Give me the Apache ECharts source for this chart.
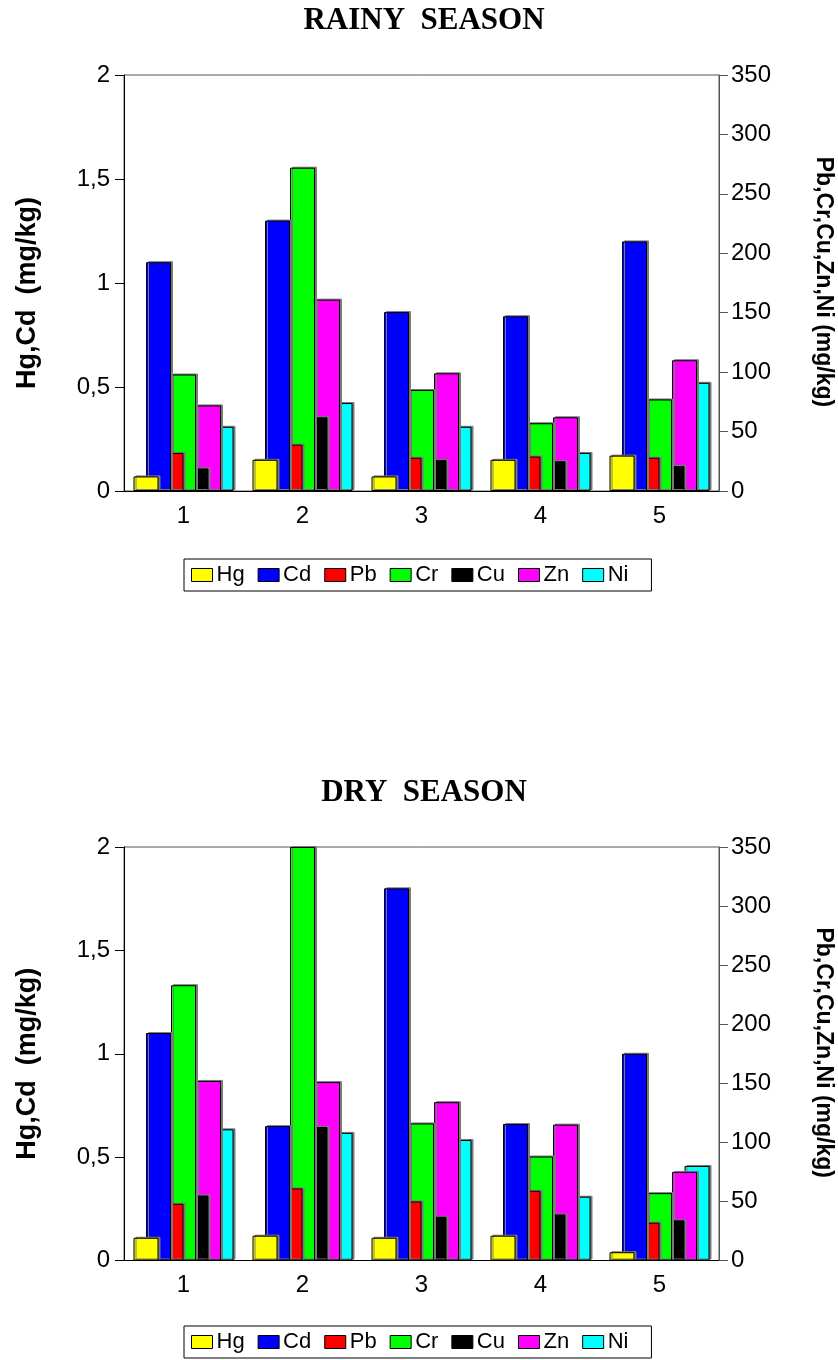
<!DOCTYPE html>
<html>
<head>
<meta charset="utf-8">
<title>Rainy / Dry season metals</title>
<script src="https://cdn.jsdelivr.net/npm/echarts@6/dist/echarts.min.js"></script>
<style>
  html, body { margin: 0; padding: 0; background: #fff; }
  #main { width: 838px; height: 1360px; }
</style>
</head>
<body>
<div id="main"></div>
<script>
// sampling sites on the x axis
const sites = ['1', '2', '3', '4', '5'];
const metals = ['Hg', 'Cd', 'Pb', 'Cr', 'Cu', 'Zn', 'Ni'];
const metalColors = ['#ffff00', '#0000ff', '#ff0000', '#00ff00', '#000000', '#ff00ff', '#00ffff'];

// left axis ticks (Hg, Cd) and right axis ticks (Pb, Cr, Cu, Zn, Ni)
const leftTicks = [0, 0.5, 1, 1.5, 2];
const rightTicks = [0, 50, 100, 150, 200, 250, 300, 350];

// rainy season, mg/kg
const rainyHg = [0.07, 0.15, 0.07, 0.15, 0.17];
const rainyCd = [1.10, 1.30, 0.86, 0.84, 1.20];
const rainyPb = [32, 39, 28, 29, 28];
const rainyCr = [98, 272, 85, 57, 77];
const rainyCu = [19, 62, 26, 25, 21];
const rainyZn = [72, 161, 99, 62, 110];
const rainyNi = [54, 74, 54, 32, 91];

// dry season, mg/kg
const dryHg = [0.11, 0.12, 0.11, 0.12, 0.04];
const dryCd = [1.10, 0.65, 1.80, 0.66, 1.00];
const dryPb = [48, 61, 50, 59, 32];
const dryCr = [233, 350, 116, 88, 57];
const dryCu = [55, 113, 37, 39, 34];
const dryZn = [152, 151, 134, 115, 75];
const dryNi = [111, 108, 102, 54, 80];

const rainy = [rainyHg, rainyCd, rainyPb, rainyCr, rainyCu, rainyZn, rainyNi];
const dry = [dryHg, dryCd, dryPb, dryCr, dryCu, dryZn, dryNi];

const SANS = '"Liberation Sans", Arial, sans-serif';
const SERIF = '"Liberation Serif", "Times New Roman", serif';

// two panels, same layout
const panels = [
  { title: 'RAINY  SEASON', top: 75, height: 416, legendTop: 559 },
  { title: 'DRY  SEASON', top: 847, height: 413.5, legendTop: 1326 }
];
const gridLeft = 124;
const gridWidth = 595;

function commaNum(v) {
  return String(v).replace('.', ',');
}

function makeXAxis(idx) {
  return {
    type: 'category',
    gridIndex: idx,
    data: sites,
    axisLine: { lineStyle: { color: '#000', width: 1 } },
    axisTick: { alignWithLabel: true, length: 9, lineStyle: { color: '#000' } },
    axisLabel: { margin: 13, fontSize: 24, color: '#000', fontFamily: SANS }
  };
}

function makeYAxis(idx, right) {
  const ticks = right ? rightTicks : leftTicks;
  return {
    type: 'value',
    gridIndex: idx,
    position: right ? 'right' : 'left',
    min: ticks[0],
    max: ticks[ticks.length - 1],
    interval: ticks[1] - ticks[0],
    splitLine: { show: false },
    axisLine: { show: true, onZero: false, lineStyle: { color: right ? '#555' : '#000', width: 1 } },
    axisTick: { show: true, length: 9, lineStyle: { color: right ? '#555' : '#000' } },
    axisLabel: {
      margin: right ? 12 : 14,
      fontSize: 24,
      color: '#000',
      fontFamily: SANS,
      formatter: commaNum
    }
  };
}

function makeSeries(idx, values) {
  return metals.map(function (m, i) {
    return {
      name: m,
      type: 'bar',
      xAxisIndex: idx,
      yAxisIndex: idx * 2 + (i < 2 ? 0 : 1),
      data: values[i],
      barWidth: 25,
      barGap: '-50%',
      z: 10 - i,   // first series sits on top, as in the original
      itemStyle: {
        color: metalColors[i],
        borderColor: '#000',
        borderWidth: 1,
        shadowColor: '#7a7a7a',
        shadowBlur: 0,
        shadowOffsetX: 2,
        shadowOffsetY: -1
      }
    };
  });
}

const graphics = [];
panels.forEach(function (p) {
  graphics.push({
    type: 'text', x: 424, y: p.top - 54,
    style: { text: p.title, fontFamily: SERIF, fontWeight: 'bold', fontSize: 31, fill: '#000', textAlign: 'center', textVerticalAlign: 'middle' }
  });
  graphics.push({
    type: 'text', x: 28, y: p.top + p.height / 2 + 10, rotation: Math.PI / 2,
    style: { text: 'Hg,Cd  (mg/kg)', fontFamily: SANS, fontWeight: 'bold', fontSize: 27, fill: '#000', textAlign: 'center', textVerticalAlign: 'middle' }
  });
  graphics.push({
    type: 'text', x: 823, y: p.top + p.height / 2 - 1, rotation: -Math.PI / 2,
    style: { text: 'Pb,Cr,Cu,Zn,Ni (mg/kg)', fontFamily: SANS, fontWeight: 'bold', fontSize: 23, fill: '#000', textAlign: 'center', textVerticalAlign: 'middle' }
  });
});

const option = {
  animation: false,
  backgroundColor: '#fff',
  grid: panels.map(function (p) {
    return { left: gridLeft, top: p.top, width: gridWidth, height: p.height, show: true, borderColor: '#555', borderWidth: 1, containLabel: false };
  }),
  xAxis: [makeXAxis(0), makeXAxis(1)],
  yAxis: [makeYAxis(0, false), makeYAxis(0, true), makeYAxis(1, false), makeYAxis(1, true)],
  legend: panels.map(function (p) {
    return {
      data: metals,
      left: 184,
      top: p.legendTop,
      orient: 'horizontal',
      icon: 'rect',
      itemWidth: 21,
      itemHeight: 13,
      itemGap: 13,
      padding: [5, 23, 5, 7],
      borderColor: '#000',
      borderWidth: 1,
      selectedMode: false,
      itemStyle: { borderColor: '#000', borderWidth: 1, shadowBlur: 0, shadowOffsetX: 0, shadowOffsetY: 0, shadowColor: 'transparent' },
      textStyle: { fontSize: 22, color: '#000', fontFamily: SANS, padding: [0, 0, 0, -1] }
    };
  }),
  graphic: graphics,
  series: makeSeries(0, rainy).concat(makeSeries(1, dry))
};

const chart = echarts.init(document.getElementById('main'), null, { renderer: 'canvas' });
chart.setOption(option);
window.addEventListener('resize', function () { chart.resize(); });
</script>
</body>
</html>
